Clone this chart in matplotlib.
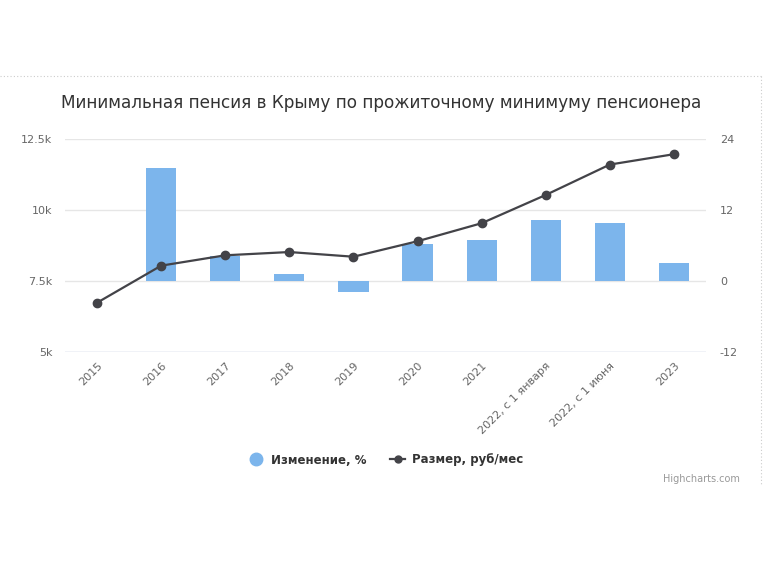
import numpy as np
import matplotlib
matplotlib.use("Agg")
import matplotlib.pyplot as plt
from matplotlib.lines import Line2D

plt.rcParams['font.family'] = ['DejaVu Sans']

categories = ["2015", "2016", "2017", "2018", "2019", "2020", "2021",
              "2022, с 1 января", "2022, с 1 июня", "2023"]
change_pct = [np.nan, 19.1, 4.3, 1.2, -1.8, 6.3, 7.0, 10.3, 9.8, 3.1]
size_rub = [6735, 8040, 8405, 8520, 8355, 8900, 9535, 10530, 11600, 11965]
left_ticks = [5000, 7500, 10000, 12500]
left_labels = ["5k", "7.5k", "10k", "12.5k"]
right_ticks = [-12, 0, 12, 24]

W, H = 764, 573
fig = plt.figure(figsize=(W / 100, H / 100), dpi=100)

x0, x1, yt, yb = 65, 706, 139, 352
ax = fig.add_axes([x0 / W, 1 - yb / H, (x1 - x0) / W, (yb - yt) / H])
ax2 = ax.twinx()

x = np.arange(len(categories))

# bars on right axis
ax2.bar(x, change_pct, width=0.47, color="#7cb5ec", zorder=2)
ax2.set_ylim(-12, 24)
ax2.set_yticks(right_ticks)
ax2.set_yticklabels([str(t) for t in right_ticks])
ax2.grid(axis="y", color="#e6e6e6", lw=1, zorder=0)
ax2.set_axisbelow(True)

# line on left axis
ax.plot(x, size_rub, color="#434348", lw=1.6, marker="o", ms=6, zorder=3)
ax.set_ylim(5000, 12500)
ax.set_yticks(left_ticks)
ax.set_yticklabels(left_labels)
ax.set_xlim(-0.5, len(categories) - 0.5)
ax.set_xticks(x)
ax.set_xticklabels(categories, rotation=45, ha="right", rotation_mode="anchor")

ax.set_zorder(ax2.get_zorder() + 1)
ax.patch.set_visible(False)

for a in (ax, ax2):
    for s in a.spines.values():
        s.set_visible(False)
    a.tick_params(length=0, labelsize=8, labelcolor="#666666")

ax.tick_params(axis="y", pad=9)
ax2.tick_params(axis="y", pad=10)
ax.tick_params(axis="x", pad=6)
ax2.axhline(-12, color="#ccd6eb", lw=1, zorder=1)

fig.text(381 / W, 1 - 103 / H, "Минимальная пенсия в Крыму по прожиточному минимуму пенсионера",
         ha="center", va="center", fontsize=12.2, color="#333333")

handles = [
    Line2D([], [], marker="o", color="none", markerfacecolor="#7cb5ec",
           markeredgecolor="#7cb5ec", ms=9),
    Line2D([], [], marker="o", color="#434348", lw=1.6, ms=5),
]
leg = fig.legend(handles, ["Изменение, %", "Размер, руб/мес"], loc="center",
                 bbox_to_anchor=(386 / W, 1 - 460 / H), ncol=2, frameon=False,
                 prop={"size": 8.5, "weight": "bold"}, handlelength=1.3,
                 columnspacing=2.0, handletextpad=0.6)
for t in leg.get_texts():
    t.set_color("#333333")

fig.text(740 / W, 1 - 479 / H, "Highcharts.com", ha="right", va="center",
         fontsize=7, color="#999999")

# dotted container border
fig.add_artist(Line2D([0, 762 / W], [1 - 76 / H, 1 - 76 / H], color="#cccccc",
                      lw=0.8, ls=(0, (1, 2)), transform=fig.transFigure))
fig.add_artist(Line2D([761 / W, 761 / W], [1 - 76 / H, 1 - 486 / H], color="#cccccc",
                      lw=0.8, ls=(0, (1, 2)), transform=fig.transFigure))

fig.savefig("out.png", dpi=100)
